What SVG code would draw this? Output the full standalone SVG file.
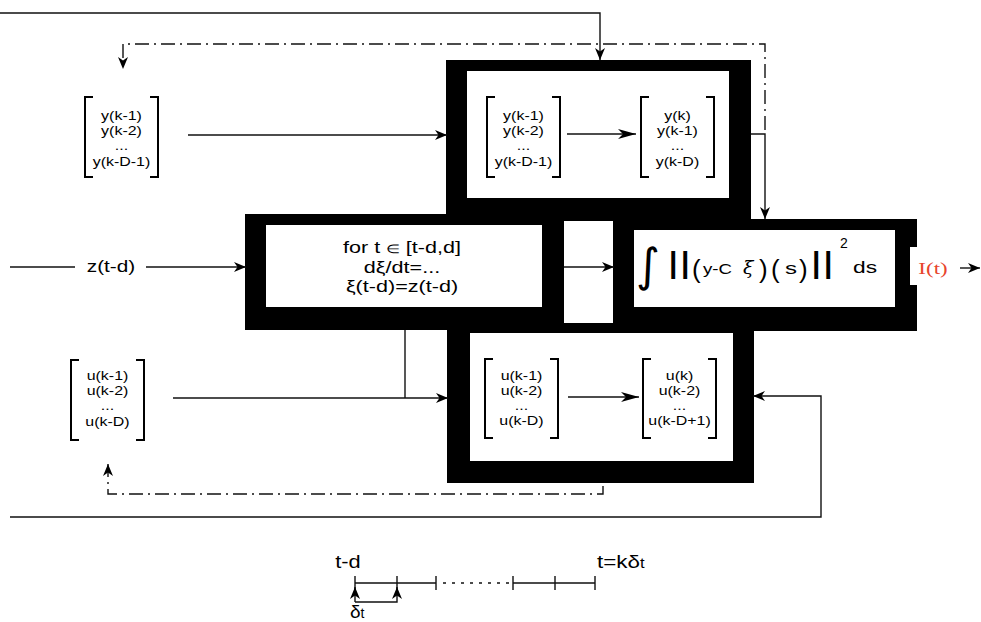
<svg xmlns="http://www.w3.org/2000/svg" width="981" height="622" viewBox="0 0 981 622">
<style>
.blk{fill:#000}
.wht{fill:#fff}
.br{fill:none;stroke:#000;stroke-width:2}
.ln{fill:none;stroke:#111;stroke-width:1.4}
.dd{stroke-dasharray:14 5 2 5}
.dot{stroke-dasharray:3 6}
.t{font-family:"Liberation Sans",Arial,sans-serif;fill:#000}
.m{font-size:12px;text-anchor:middle}
.b16{font-size:16px;text-anchor:middle}
.par{font-family:"Liberation Sans",Arial,sans-serif;font-size:26px;fill:#000}
</style>
<defs>
<marker id="big" markerUnits="userSpaceOnUse" markerWidth="20" markerHeight="12" refX="18" refY="5" orient="auto"><path d="M0,0 L18,5 L0,10 L5,5 z" fill="#000"/></marker>
<marker id="sm" markerUnits="userSpaceOnUse" markerWidth="13" markerHeight="11" refX="12" refY="5" orient="auto"><path d="M0,0 L12,5 L0,10 L3.5,5 z" fill="#000"/></marker>
</defs>
<rect width="981" height="622" fill="#fff"/>

<g id="frames">
<rect class="blk" x="446" y="60" width="305" height="160"/>
<rect class="blk" x="245" y="214" width="368" height="116"/>
<rect class="blk" x="613" y="219" width="304" height="112"/>
<rect class="blk" x="447" y="320" width="307" height="163"/>
<rect class="wht" x="467" y="71" width="262" height="127"/>
<rect class="wht" x="266" y="225" width="276" height="82"/>
<rect class="wht" x="564" y="221" width="49" height="102"/>
<rect class="wht" x="634" y="230" width="261" height="77"/>
<rect class="wht" x="470" y="333" width="263" height="128"/>
<rect class="wht" x="910" y="247" width="10" height="38"/>
</g>

<g id="connectors">
<path class="ln" d="M0,13 H600 V60" marker-end="url(#sm)"/>
<path class="ln dd" d="M765,130 V44 H123 V69" marker-end="url(#sm)"/>
<path class="ln" d="M751,134 H765 V219" marker-end="url(#sm)"/>
<path class="ln" d="M188,135 H447" marker-end="url(#sm)"/>
<path class="ln" d="M10,267 H75"/>
<path class="ln" d="M146,267 H246" marker-end="url(#sm)"/>
<path class="ln" d="M564,267 H614" marker-end="url(#sm)"/>
<path class="ln" d="M960,268 H980" marker-end="url(#sm)"/>
<path class="ln" d="M173,398 H448" marker-end="url(#sm)"/>
<path class="ln" d="M405,330 V398"/>
<path class="ln" d="M10,517 H821 V396 H753" marker-end="url(#sm)"/>
<path class="ln dd" d="M603,486 V494 H108 V464" marker-end="url(#sm)"/>
<path class="ln" d="M567,134 H636" marker-end="url(#big)"/>
<path class="ln" d="M568,397 H639" marker-end="url(#big)"/>
</g>

<g id="y_prev">
<path class="br" d="M93,97 H85 V177 H93 M150,97 H158 V177 H150"/>
<g transform="translate(121.5,0) scale(1.33,1)">
<text class="t m" y="120">y(k-1)</text><text class="t m" y="135">y(k-2)</text><text class="t m" y="150.5">...</text><text class="t m" y="166">y(k-D-1)</text>
</g>
</g>

<g id="y_shift">
<path class="br" d="M495,97 H487 V177 H495 M552,97 H560 V177 H552"/>
<g transform="translate(523.5,0) scale(1.33,1)">
<text class="t m" y="120">y(k-1)</text><text class="t m" y="135">y(k-2)</text><text class="t m" y="150.5">...</text><text class="t m" y="166">y(k-D-1)</text>
</g>
<path class="br" d="M649,97 H641 V177 H649 M706,97 H714 V177 H706"/>
<g transform="translate(677.5,0) scale(1.33,1)">
<text class="t m" y="120">y(k)</text><text class="t m" y="135">y(k-1)</text><text class="t m" y="150.5">...</text><text class="t m" y="166">y(k-D)</text>
</g>
</g>

<g id="z_input">
<g transform="translate(111,272) scale(1.3,1)"><text class="t b16">z(t-d)</text></g>
</g>

<g id="observer">
<g transform="translate(402,0) scale(1.35,1)">
<text class="t b16" y="253">for t <tspan font-size="12">∈</tspan> [t-d,d]</text>
<text class="t b16" y="273">dξ/dt=...</text>
<text class="t b16" y="292">ξ(t-d)=z(t-d)</text>
</g>
</g>

<g id="criterion">
<text x="636" y="281" font-size="46" font-family="'DejaVu Sans',sans-serif">∫</text>
<text class="t" x="669" y="273" font-size="30" font-weight="bold">|</text>
<text class="t" x="681" y="273" font-size="30" font-weight="bold">|</text>
<text class="par" x="692" y="278">(</text>
<text class="t" x="703" y="274" font-size="15" textLength="29" lengthAdjust="spacingAndGlyphs">y-C</text>
<text x="743" y="274" font-size="19" font-style="italic" font-family="'DejaVu Serif',serif">ξ</text>
<text class="par" x="759" y="278">)</text>
<text class="par" x="771" y="278">(</text>
<text class="t" x="785" y="274" font-size="16" textLength="12" lengthAdjust="spacingAndGlyphs">s</text>
<text class="par" x="799" y="278">)</text>
<text class="t" x="812" y="273" font-size="30" font-weight="bold">|</text>
<text class="t" x="824" y="273" font-size="30" font-weight="bold">|</text>
<text class="t" x="840" y="248" font-size="14">2</text>
<text class="t" x="853" y="273" font-size="16" textLength="24" lengthAdjust="spacingAndGlyphs">ds</text>
</g>

<g id="output">
<g transform="translate(933,274) scale(1.35,1)"><text font-family="'Liberation Serif',serif" font-size="17" fill="#e8442c" text-anchor="middle">I(t)</text></g>
</g>

<g id="u_prev">
<path class="br" d="M79,360 H71 V440 H79 M136,360 H144 V440 H136"/>
<g transform="translate(107.5,0) scale(1.33,1)">
<text class="t m" y="380">u(k-1)</text><text class="t m" y="395">u(k-2)</text><text class="t m" y="410">...</text><text class="t m" y="426">u(k-D)</text>
</g>
</g>

<g id="u_shift">
<path class="br" d="M493,359 H485 V438 H493 M550,359 H558 V438 H550"/>
<g transform="translate(521.5,0) scale(1.33,1)">
<text class="t m" y="380">u(k-1)</text><text class="t m" y="395">u(k-2)</text><text class="t m" y="410">...</text><text class="t m" y="425">u(k-D)</text>
</g>
<path class="br" d="M651,359 H643 V438 H651 M708,359 H716 V438 H708"/>
<g transform="translate(679.5,0) scale(1.33,1)">
<text class="t m" y="380">u(k)</text><text class="t m" y="395">u(k-2)</text><text class="t m" y="410">...</text><text class="t m" y="425">u(k-D+1)</text>
</g>
</g>

<g id="timeline">
<path class="ln" d="M355,583 H436 M513,583 H595"/>
<path class="ln dot" d="M443,583 H511"/>
<path class="ln" d="M355,576 V590 M397,576 V590 M436,576 V590 M513,576 V590 M555,576 V590 M595,576 V590"/>
<path class="ln" d="M355,602 V587" marker-end="url(#sm)"/>
<path class="ln" d="M355,602 H397 V587" marker-end="url(#sm)"/>
<g transform="translate(348,568) scale(1.15,1)"><text class="t" font-size="19" text-anchor="middle">t-d</text></g>
<g transform="translate(597,568) scale(1.18,1)"><text class="t" font-size="19">t=kδ<tspan font-size="14">t</tspan></text></g>
<text class="t" x="350" y="618" font-size="19">δ<tspan font-size="14">t</tspan></text>
</g>
</svg>
